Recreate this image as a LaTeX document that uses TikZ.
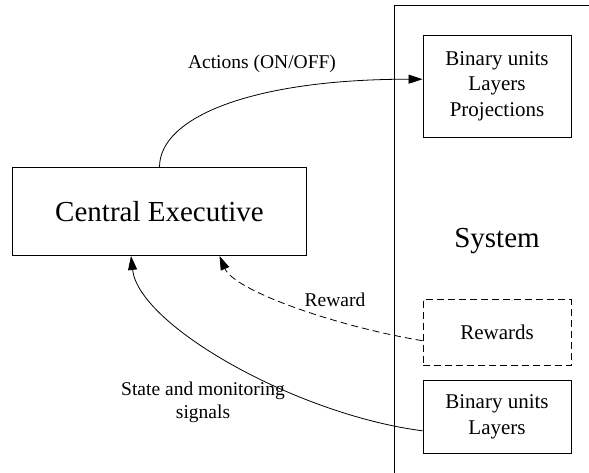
\documentclass[tikz,border=0pt]{standalone}
\usepackage{fontspec}
\setmainfont{Liberation Serif}
\usetikzlibrary{arrows.meta}

\begin{document}
\begin{tikzpicture}[x=1pt,y=-1pt,
    unitbox/.style={draw=black, line width=0.9pt, minimum width=148pt, inner sep=0pt, align=center, font=\fontsize{21}{25.5}\selectfont},
    sig/.style={-{Triangle[length=14pt,width=9pt]}, line width=0.8pt},
    lbl/.style={font=\fontsize{19.5}{23}\selectfont, align=center}]
    \useasboundingbox (0,0) rectangle (589,473);
    % system frame, cut off at the right and bottom
    \draw [black, line width=0.9pt] (394,473) -- (394,5.7) -- (589,5.7);
    \node (sys) at (497,240.7) {\fontsize{29}{34}\selectfont System};
    \node [unitbox, minimum height=102pt] (units) at (497,86.2) {Binary units\\Layers\\Projections};
    \node [unitbox, minimum height=66pt, dash pattern=on 7pt off 4pt] (rew) at (497,332.7) {Rewards};
    \node [unitbox, minimum height=73pt] (state) at (497,416.8) {Binary units\\Layers};
    \node [draw=black, line width=0.9pt, minimum width=294pt, minimum height=88pt, inner sep=0pt] (ce) at (159.5,211.5) {\fontsize{29}{34}\selectfont Central Executive};
    % connectors
    \coordinate (ceout) at ([xshift=0pt]ce.north);
    \coordinate (cerew) at ([xshift=60pt]ce.south);
    \coordinate (cestate) at ([xshift=-28.5pt]ce.south);
    \draw [sig] (ceout) .. controls +(0,-50) and +(-170,0) .. ([yshift=7pt]units.west);
    \draw [sig, dash pattern=on 7pt off 4pt] ([yshift=-8pt]rew.west) .. controls +(-85,-14) and +(15,35) .. (cerew);
    \draw [sig] ([yshift=-14pt]state.west) .. controls +(-125,-16) and +(8,70) .. (cestate);
    % labels
    \node [lbl] (actlbl) at (262,64) {Actions (ON/OFF)};
    \node [lbl] (rewlbl) at (335,300) {Reward};
    \node [lbl] (statelbl) at (203,402) {State and monitoring\\signals};
\end{tikzpicture}
\end{document}
